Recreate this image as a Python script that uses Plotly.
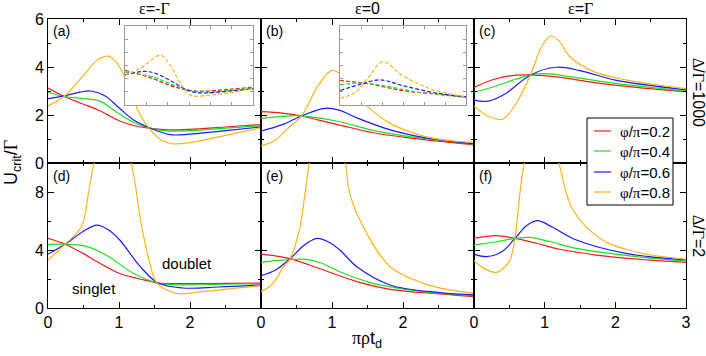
import plotly.graph_objects as go

# ---- data: (x, U_crit/Gamma) pairs ----
# top row: Delta/Gamma = 1000
pa_red = [(0, 3.12), (0.23, 2.77), (0.5, 2.45), (0.73, 2.18), (1.0, 1.76), (1.25, 1.53), (1.45, 1.44), (1.7, 1.38), (2.0, 1.4), (2.5, 1.5), (3.0, 1.6)]
pa_green = [(0, 2.95), (0.23, 2.77), (0.5, 2.68), (0.73, 2.58), (1.0, 2.05), (1.2, 1.7), (1.45, 1.44), (1.7, 1.33), (2.0, 1.35), (2.5, 1.45), (3.0, 1.55)]
pa_blue = [(0, 2.68), (0.23, 2.8), (0.45, 2.95), (0.6, 3.0), (0.8, 2.8), (1.0, 2.3), (1.2, 1.8), (1.45, 1.44), (1.72, 1.18), (2.0, 1.2), (2.5, 1.35), (3.0, 1.5)]
pa_orange = [(0, 2.38), (0.23, 2.78), (0.5, 3.65), (0.7, 4.3), (0.85, 4.45), (1.0, 4.05), (1.18, 2.8), (1.3, 2.0), (1.45, 1.35), (1.6, 0.95), (1.76, 0.8), (2.0, 0.85), (2.5, 1.15), (3.0, 1.47)]

pb_red = [(0, 2.14), (0.3, 2.08), (0.57, 1.96), (0.8, 1.8), (1.11, 1.58), (1.58, 1.26), (2.0, 1.08), (2.3, 0.97), (3.0, 0.75)]
pb_green = [(0, 1.86), (0.3, 1.94), (0.5, 1.97), (0.8, 1.88), (1.11, 1.72), (1.58, 1.36), (2.0, 1.14), (2.3, 1.02), (3.0, 0.78)]
pb_blue = [(0, 1.33), (0.3, 1.6), (0.57, 1.96), (0.9, 2.28), (1.1, 2.2), (1.35, 1.88), (1.82, 1.38), (2.3, 1.06), (3.0, 0.8)]
pb_orange = [(0, 0.71), (0.2, 0.95), (0.4, 1.5), (0.57, 1.96), (0.8, 3.2), (0.99, 3.85), (1.1, 3.75), (1.25, 3.15), (1.49, 2.38), (1.82, 1.65), (2.29, 1.12), (2.6, 0.95), (3.0, 0.85)]

pc_red = [(0, 3.15), (0.3, 3.5), (0.6, 3.66), (0.8, 3.67), (1.2, 3.58), (1.68, 3.36), (2.3, 3.15), (3.0, 2.97)]
pc_green = [(0, 2.94), (0.3, 3.2), (0.6, 3.5), (0.8, 3.67), (1.02, 3.72), (1.4, 3.58), (2.0, 3.32), (3.0, 3.0)]
pc_blue = [(0, 2.62), (0.2, 2.58), (0.45, 2.9), (0.8, 3.67), (1.16, 3.99), (1.5, 3.85), (2.0, 3.45), (3.0, 3.05)]
pc_orange = [(0, 2.38), (0.2, 1.95), (0.41, 1.83), (0.6, 2.5), (0.8, 3.67), (0.95, 4.8), (1.08, 5.29), (1.2, 5.1), (1.35, 4.45), (1.68, 3.83), (2.15, 3.46), (2.6, 3.25), (3.0, 3.1)]

# bottom row: Delta/Gamma = 2
pd_red = [(0, 4.8), (0.24, 4.4), (0.5, 3.75), (0.69, 3.2), (1.0, 2.4), (1.25, 2.05), (1.43, 1.85), (1.55, 1.72), (2.0, 1.68), (2.5, 1.7), (3.0, 1.72)]
pd_green = [(0, 4.39), (0.24, 4.4), (0.5, 4.3), (0.7, 3.95), (0.87, 3.5), (1.2, 2.4), (1.55, 1.72), (1.8, 1.6), (2.3, 1.62), (3.0, 1.68)]
pd_blue = [(0, 3.72), (0.24, 4.4), (0.5, 5.3), (0.69, 5.72), (0.85, 5.4), (1.01, 4.69), (1.3, 2.85), (1.55, 1.72), (1.9, 1.38), (2.4, 1.45), (3.0, 1.6)]
pd_orange = [(0, 3.31), (0.24, 4.4), (0.47, 5.6), (0.57, 7.9), (0.66, 10.2), (0.9, 13.5), (1.16, 10.2), (1.32, 5.6), (1.44, 3.0), (1.53, 1.75), (1.81, 1.01), (2.2, 1.15), (3.0, 1.55)]

pe_red = [(0, 3.72), (0.2, 3.6), (0.41, 3.4), (0.88, 2.62), (1.35, 1.82), (1.82, 1.29), (2.52, 0.97), (3.0, 0.78)]
pe_green = [(0, 3.15), (0.3, 3.3), (0.64, 3.36), (0.85, 3.1), (1.11, 2.5), (1.58, 1.7), (2.29, 1.13), (3.0, 0.85)]
pe_blue = [(0, 2.23), (0.2, 2.6), (0.41, 3.4), (0.6, 4.3), (0.79, 4.8), (0.95, 4.55), (1.11, 4.0), (1.35, 2.85), (1.82, 1.59), (2.52, 1.06), (3.0, 0.9)]
pe_orange = [(0, 1.13), (0.15, 1.6), (0.32, 2.85), (0.41, 3.4), (0.55, 5.6), (0.62, 7.9), (0.69, 10.2), (0.93, 14), (1.18, 10.2), (1.25, 7.9), (1.44, 5.6), (1.82, 2.85), (2.29, 1.7), (2.6, 1.3), (3.0, 1.01)]

pf_red = [(0, 4.8), (0.32, 4.99), (0.58, 4.8), (0.9, 4.45), (1.21, 4.05), (1.92, 3.54), (2.5, 3.3), (3.0, 3.15)]
pf_green = [(0, 4.34), (0.3, 4.55), (0.58, 4.8), (0.79, 4.87), (1.1, 4.55), (1.45, 4.11), (2.2, 3.6), (3.0, 3.24)]
pf_blue = [(0, 3.72), (0.18, 3.54), (0.4, 3.9), (0.58, 4.8), (0.75, 5.7), (0.9, 6.02), (1.1, 5.6), (1.45, 4.69), (2.15, 3.77), (3.0, 3.31)]
pf_orange = [(0, 3.26), (0.15, 2.7), (0.32, 2.46), (0.45, 2.9), (0.51, 3.31), (0.58, 4.8), (0.65, 7.9), (0.72, 10.2), (0.95, 14), (1.19, 10.2), (1.4, 6.76), (1.82, 4.69), (2.38, 3.77), (3.0, 3.38)]

# insets (dashed), own y scale 0..6
ia_red = [(0, 2.63), (0.67, 1.99), (1.06, 1.48), (1.45, 1.15), (1.8, 1.05), (2.4, 1.18), (3.0, 1.35)]
ia_green = [(0, 2.5), (0.67, 2.12), (1.06, 1.61), (1.45, 1.15), (1.92, 0.97), (2.5, 1.12), (3.0, 1.3)]
ia_blue = [(0, 2.3), (0.47, 2.55), (0.74, 2.37), (1.06, 1.86), (1.45, 1.15), (1.76, 0.92), (2.4, 1.05), (3.0, 1.23)]
ia_orange = [(0, 2.25), (0.35, 2.76), (0.84, 3.78), (1.06, 3.0), (1.33, 1.48), (1.53, 0.75), (1.68, 0.66), (2.23, 0.84), (3.0, 1.23)]

ib_red = [(0, 1.86), (0.68, 1.61), (1.48, 1.1), (2.27, 0.84), (3.0, 0.59)]
ib_green = [(0, 1.56), (0.52, 1.66), (1.0, 1.48), (1.87, 0.97), (3.0, 0.61)]
ib_blue = [(0, 1.1), (0.52, 1.61), (0.96, 1.91), (1.48, 1.48), (2.27, 0.92), (3.0, 0.61)]
ib_orange = [(0, 0.51), (0.37, 0.97), (0.68, 2.12), (1.02, 3.27), (1.48, 2.25), (1.87, 1.61), (2.27, 1.1), (3.0, 0.64)]

phi_labels = ["φ/π=0.2", "φ/π=0.4", "φ/π=0.6", "φ/π=0.8"]
colors = ["#f21c1c", "#1ee01e", "#1c1cf2", "#ffb21c"]
col_titles = ["ε=-Γ", "ε=0", "ε=Γ"]
panel_tags = ["(a)", "(b)", "(c)", "(d)", "(e)", "(f)"]

panels = [
    [pa_red, pa_green, pa_blue, pa_orange],
    [pb_red, pb_green, pb_blue, pb_orange],
    [pc_red, pc_green, pc_blue, pc_orange],
    [pd_red, pd_green, pd_blue, pd_orange],
    [pe_red, pe_green, pe_blue, pe_orange],
    [pf_red, pf_green, pf_blue, pf_orange],
]
insets = [
    [ia_red, ia_green, ia_blue, ia_orange],
    [ib_red, ib_green, ib_blue, ib_orange],
]

# ---- geometry (pixels in a 706x356 page) ----
W, H = 706, 356
L, R, T, B = 48, 686, 19, 308


def fx(px):
    return (px - L) / (R - L)


def fy(py):
    return (B - py) / (B - T)


SERIF = "Liberation Serif"
SANS = "Liberation Sans, Arial, sans-serif"


def greek(s):
    # wrap greek letters in a serif span
    out = ""
    for ch in s:
        if ch in "εΓΔφπρ":
            out += f"<span style='font-family:{SERIF}'>{ch}</span>"
        else:
            out += ch
    return out


fig = go.Figure()

col_dom = [[fx(48), fx(261)], [fx(261), fx(474)], [fx(474), fx(686)]]
row_dom = [[fy(163), 1.0], [0.0, fy(163)]]

for i, series in enumerate(panels):
    n = i + 1
    for k, pts in enumerate(series):
        fig.add_trace(go.Scatter(
            x=[p[0] for p in pts], y=[p[1] for p in pts], mode="lines",
            line=dict(color=colors[k], width=1.2, shape="spline", smoothing=1.0),
            xaxis=f"x{n}", yaxis=f"y{n}", showlegend=False, hoverinfo="skip"))

for j, series in enumerate(insets):
    n = 7 + j
    for k, pts in enumerate(series):
        fig.add_trace(go.Scatter(
            x=[p[0] for p in pts], y=[p[1] for p in pts], mode="lines",
            line=dict(color=colors[k], width=1.2, dash="4px,2px", shape="spline", smoothing=1.0),
            xaxis=f"x{n}", yaxis=f"y{n}", showlegend=False, hoverinfo="skip"))

axis_common = dict(showline=True, linecolor="black", linewidth=1, mirror="allticks",
                   ticks="inside", ticklen=6, tickcolor="black", tickwidth=1,
                   showgrid=False, zeroline=False,
                   tickfont=dict(family=SANS, size=16, color="black"))

layout = {}
for i in range(6):
    n = i + 1
    r, c = divmod(i, 3)
    key = "" if n == 1 else str(n)
    xt = [0, 1, 2, 3] if c == 2 else [0, 1, 2]
    xa = dict(axis_common, domain=col_dom[c], range=[0, 3], anchor=f"y{n}",
              tickmode="array", tickvals=xt, ticktext=[str(v) for v in xt],
              showticklabels=(r == 1),
              minor=dict(tickmode="array", tickvals=[0.5, 1.5, 2.5], ticklen=3,
                         ticks="inside", tickcolor="black"))
    if r == 0:
        ya = dict(axis_common, domain=row_dom[0], range=[0, 6], anchor=f"x{n}",
                  tickmode="array", tickvals=[0, 2, 4, 6], ticktext=["0", "2", "4", "6"],
                  minor=dict(tickmode="array", tickvals=[1, 3, 5], ticklen=3,
                             ticks="inside", tickcolor="black"))
    else:
        ya = dict(axis_common, domain=row_dom[1], range=[0, 10], anchor=f"x{n}",
                  tickmode="array", tickvals=[0, 4, 8], ticktext=["0", "4", "8"],
                  minor=dict(tickmode="array", tickvals=[2, 6], ticklen=3,
                             ticks="inside", tickcolor="black"))
    ya["showticklabels"] = (c == 0)
    layout["xaxis" + key] = xa
    layout["yaxis" + key] = ya

inset_px = [(125, 253), (340, 466)]
for j, (x0, x1) in enumerate(inset_px):
    n = 7 + j
    inset_axis = dict(showline=True, linecolor="#9a9a9a", linewidth=1, mirror="allticks",
                      ticks="inside", ticklen=3, tickcolor="#9a9a9a",
                      showgrid=False, zeroline=False, showticklabels=False)
    layout[f"xaxis{n}"] = dict(inset_axis, domain=[fx(x0), fx(x1)], range=[0, 3],
                               dtick=0.5, tick0=0, anchor=f"y{n}")
    layout[f"yaxis{n}"] = dict(inset_axis, domain=[fy(105), fy(26)], range=[0, 6],
                               dtick=1, tick0=0, anchor=f"x{n}")

fig.update_layout(**layout)

ann = []
# column titles
for c, t in enumerate(col_titles):
    ann.append(dict(x=(col_dom[c][0] + col_dom[c][1]) / 2, y=fy(9), text=greek(t),
                    font=dict(family=SANS, size=16)))
# panel tags
tag_pos = [(51, 31), (264, 31), (477, 31), (51, 176), (264, 176), (477, 176)]
for tag, (px, py) in zip(panel_tags, tag_pos):
    ann.append(dict(x=fx(px), y=fy(py), text=tag, xanchor="left",
                    font=dict(family=SANS, size=14)))
# row labels
ann.append(dict(x=fx(699), y=fy(92), text=greek("Δ/Γ=1000"), textangle=90,
                font=dict(family=SANS, size=16)))
ann.append(dict(x=fx(699), y=fy(236), text=greek("Δ/Γ=2"), textangle=90,
                font=dict(family=SANS, size=16)))
# axis titles
ann.append(dict(x=fx(12), y=fy(163), text="U<sub>crit</sub>/" + greek("Γ"), textangle=-90,
                font=dict(family=SANS, size=18)))
ann.append(dict(x=fx(367), y=fy(339), text=greek("πρ") + "t<sub>d</sub>",
                font=dict(family=SANS, size=18)))
# phase labels in (d)
ann.append(dict(x=fx(187), y=fy(263), text="doublet", font=dict(family=SANS, size=15)))
ann.append(dict(x=fx(94), y=fy(288), text="singlet", font=dict(family=SANS, size=15)))

shapes = []
# legend box
shapes.append(dict(type="rect", xref="paper", yref="paper",
                   x0=fx(587), x1=fx(673), y0=fy(205), y1=fy(118),
                   line=dict(color="black", width=1), fillcolor="white", layer="above"))
leg_y = [131, 151, 172, 192]
for k, lab in enumerate(phi_labels):
    shapes.append(dict(type="line", xref="paper", yref="paper",
                       x0=fx(594), x1=fx(611), y0=fy(leg_y[k]), y1=fy(leg_y[k]),
                       line=dict(color=colors[k], width=1.2), layer="above"))
    ann.append(dict(x=fx(618), y=fy(leg_y[k]), text=greek(lab), xanchor="left",
                    font=dict(family=SANS, size=15)))

for a in ann:
    a.setdefault("xref", "paper")
    a.setdefault("yref", "paper")
    a.setdefault("showarrow", False)
    a.setdefault("xanchor", "center")
    a.setdefault("yanchor", "middle")
    a["font"]["color"] = "black"

fig.update_layout(
    width=W, height=H,
    margin=dict(l=L, r=W - R, t=T, b=H - B, pad=0),
    paper_bgcolor="white", plot_bgcolor="white",
    showlegend=False,
    annotations=ann, shapes=shapes,
)

fig.write_html("out.html", config={"displayModeBar": False},
               post_script="document.body.style.margin='0';")
